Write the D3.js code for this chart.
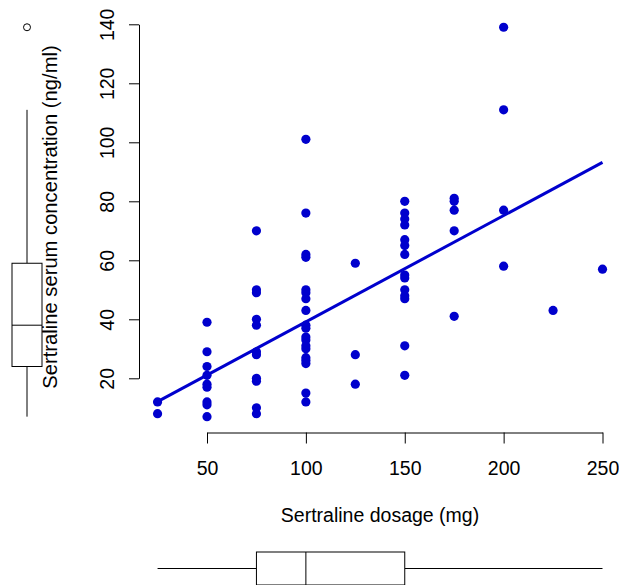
<!DOCTYPE html>
<html>
<head>
<meta charset="utf-8">
<script src="https://cdn.jsdelivr.net/npm/d3@7"></script>
<style>
  body { margin: 0; background: #fff; }
  svg text { font-family: "Liberation Sans", Arial, sans-serif; font-size: 19.5px; fill: #000; }
</style>
</head>
<body>
<div id="chart"></div>
<script>
// dosage (mg) groups and the serum concentrations read at each of them
const dosages = [25, 50, 75, 100, 125, 150, 175, 200, 225, 250];
const concentrations = [
  [12, 8],
  [39, 29, 24, 21, 18, 17, 12, 11, 7],
  [70, 50, 49, 40, 38, 29, 28, 20, 19, 10, 8],
  [101, 76, 62, 61, 50, 49, 47, 43, 38, 37, 34, 33, 31, 30, 27, 26, 25, 15, 12],
  [59, 28, 18],
  [80, 76, 74, 72, 67, 65, 62, 55, 54, 50, 48, 47, 31, 21],
  [81, 80, 77, 70, 41],
  [139, 111, 77, 58],
  [43],
  [57]
];
const xTicks = [50, 100, 150, 200, 250];
const yTicks = [20, 40, 60, 80, 100, 120, 140];
// fitted line: intercept, slope
const fit = [3.09, 0.3604];
// marginal boxplots: whisker low, lower hinge, median, upper hinge, whisker high
const xBox = [25, 75, 100, 150, 250];
const yBox = [7, 24, 38, 59, 111];
const yOutliers = [139];

const width = 619, height = 585;
const blue = '#0000cd';

const points = dosages.flatMap((d, i) => concentrations[i].map(c => ({ dose: d, conc: c })));

const x = d3.scaleLinear().domain([50, 250]).range([207, 602.5]);
const y = d3.scaleLinear().domain([20, 140]).range([378.3, 24.3]);

const svg = d3.select('#chart').append('svg')
  .attr('width', width)
  .attr('height', height);

// x axis
const xAxis = svg.append('g')
  .attr('transform', 'translate(0,432.5)')
  .call(d3.axisBottom(x).tickValues(xTicks).tickSize(11).tickPadding(16).tickSizeOuter(0));
xAxis.select('.domain').attr('stroke', '#000');
xAxis.selectAll('.tick line').attr('stroke', '#000');
xAxis.selectAll('text').attr('font-size', null).attr('font-family', null).attr('dy', null).attr('y', 42);

// y axis, labels parallel to the axis
const yAxis = svg.append('g')
  .attr('transform', 'translate(139,0)')
  .call(d3.axisLeft(y).tickValues(yTicks).tickSize(10).tickSizeOuter(0));
yAxis.select('.domain').attr('stroke', '#000');
yAxis.selectAll('.tick line').attr('stroke', '#000');
yAxis.selectAll('.tick text')
  .attr('font-size', null).attr('font-family', null)
  .attr('x', null).attr('dy', null)
  .attr('text-anchor', 'middle')
  .attr('transform', 'translate(-25,0) rotate(-90)');

// axis titles
svg.append('text')
  .attr('x', 380).attr('y', 522)
  .attr('text-anchor', 'middle')
  .text('Sertraline dosage (mg)');

svg.append('text')
  .attr('transform', 'translate(57,217) rotate(-90)')
  .attr('text-anchor', 'middle')
  .style('font-size', '20.2px')
  .text('Sertraline serum concentration (ng/ml)');

// points
svg.append('g')
  .selectAll('circle')
  .data(points)
  .join('circle')
  .attr('cx', d => x(d.dose))
  .attr('cy', d => y(d.conc))
  .attr('r', 4.6)
  .attr('fill', blue);

// regression line
const [lo, hi] = d3.extent(dosages);
svg.append('line')
  .attr('x1', x(lo)).attr('y1', y(fit[0] + fit[1] * lo))
  .attr('x2', x(hi)).attr('y2', y(fit[0] + fit[1] * hi))
  .attr('stroke', blue)
  .attr('stroke-width', 3);

// left boxplot (concentration)
const yb = svg.append('g').attr('fill', 'none').attr('stroke', '#000').attr('stroke-width', 1);
const bx = 27, bw = 15;
yb.append('line').attr('x1', bx).attr('x2', bx).attr('y1', y(yBox[0])).attr('y2', y(yBox[1]));
yb.append('line').attr('x1', bx).attr('x2', bx).attr('y1', y(yBox[3])).attr('y2', y(yBox[4]));
yb.append('rect')
  .attr('x', bx - bw).attr('width', bw * 2)
  .attr('y', y(yBox[3])).attr('height', y(yBox[1]) - y(yBox[3]))
  .attr('fill', '#fff');
yb.append('line').attr('x1', bx - bw).attr('x2', bx + bw).attr('y1', y(yBox[2])).attr('y2', y(yBox[2]));
yb.selectAll('circle')
  .data(yOutliers)
  .join('circle')
  .attr('cx', bx).attr('cy', d => y(d)).attr('r', 3.5);

// bottom boxplot (dosage)
const xb = svg.append('g').attr('fill', 'none').attr('stroke', '#000').attr('stroke-width', 1);
const by = 568.5, bh = 16.5;
xb.append('line').attr('y1', by).attr('y2', by).attr('x1', x(xBox[0])).attr('x2', x(xBox[1]));
xb.append('line').attr('y1', by).attr('y2', by).attr('x1', x(xBox[3])).attr('x2', x(xBox[4]));
xb.append('rect')
  .attr('y', by - bh).attr('height', bh * 2)
  .attr('x', x(xBox[1])).attr('width', x(xBox[3]) - x(xBox[1]))
  .attr('fill', '#fff');
xb.append('line').attr('y1', by - bh).attr('y2', by + bh).attr('x1', x(xBox[2])).attr('x2', x(xBox[2]));
</script>
</body>
</html>
